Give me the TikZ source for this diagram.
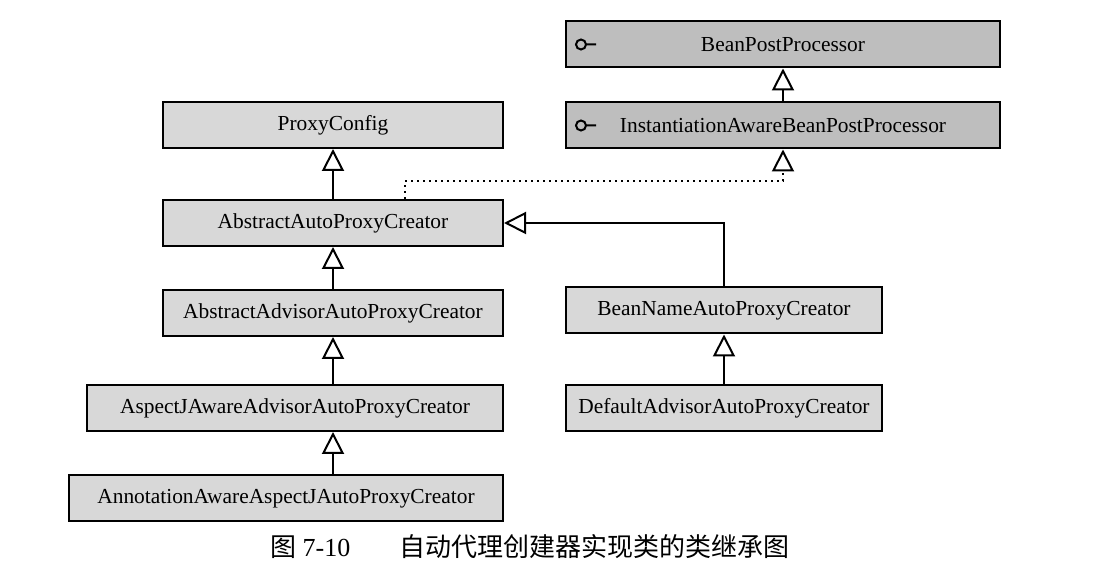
\documentclass[tikz,border=0pt]{standalone}
\usepackage{fontspec}
\setmainfont{Liberation Serif}
\newfontfamily\cjk{Noto Sans CJK SC}
\usetikzlibrary{arrows.meta}
\definecolor{boxgray}{RGB}{216,216,216}
\definecolor{ifacegray}{RGB}{190,190,190}

\begin{document}
\begin{tikzpicture}[x=.5pt,y=-.5pt,
    cls/.style={draw,line width=1pt,fill=boxgray,minimum height=23pt,inner sep=0pt,
      font=\fontsize{10.7}{13}\selectfont},
    iface/.style={cls,fill=ifacegray},
    inherit/.style={line width=1pt,-{Triangle[open,length=11pt,width=11pt]}},
    realize/.style={inherit,dotted}]
  \useasboundingbox (0,0) rectangle (1110,571);
  % interfaces
  \node[iface,minimum width=217pt] (bpp) at (783,44.5) {BeanPostProcessor};
  \node[iface,minimum width=217pt] (iabpp) at (783,125.5) {InstantiationAwareBeanPostProcessor};
  \foreach \n in {bpp,iabpp}
    \draw[line width=1pt] (\n.west) ++(16,0) circle[radius=2.5pt] ++(2.5pt,0) -- ++(5pt,0);
  % classes
  \node[cls,minimum width=170pt] (proxycfg) at (333,125) {ProxyConfig};
  \node[cls,minimum width=170pt] (aapc) at (333,223) {AbstractAutoProxyCreator};
  \node[cls,minimum width=170pt] (aaapc) at (333,313) {AbstractAdvisorAutoProxyCreator};
  \node[cls,minimum width=208pt] (aspectj) at (295,408) {AspectJAwareAdvisorAutoProxyCreator};
  \node[cls,minimum width=217pt] (annot) at (286,498.5) {AnnotationAwareAspectJAutoProxyCreator};
  \node[cls,minimum width=158pt] (beanname) at (724,310.5) {BeanNameAutoProxyCreator};
  \node[cls,minimum width=158pt] (default) at (724,408) {DefaultAdvisorAutoProxyCreator};
  \node[font=\fontsize{13}{15}\selectfont] (cap) at (530,547)
    {{\cjk 图}~7-10\hspace{1.9em}{\cjk 自动代理创建器实现类的类继承图}};
  % generalization
  \draw[inherit] (iabpp) -- (bpp);
  \draw[inherit] (aapc) -- (proxycfg);
  \draw[inherit] (aaapc) -- (aapc);
  \draw[inherit] (aspectj.north -| aaapc.south) -- (aaapc);
  \draw[inherit] (annot.north -| aaapc.south) -- (aspectj.south -| aaapc.south);
  \draw[inherit] (default) -- (beanname);
  \draw[inherit] (beanname.north) |- (aapc.east);
  % realization
  \draw[realize] ([xshift=36pt]aapc.north) -- ++(0,-18) -| (iabpp.south);
\end{tikzpicture}
\end{document}
